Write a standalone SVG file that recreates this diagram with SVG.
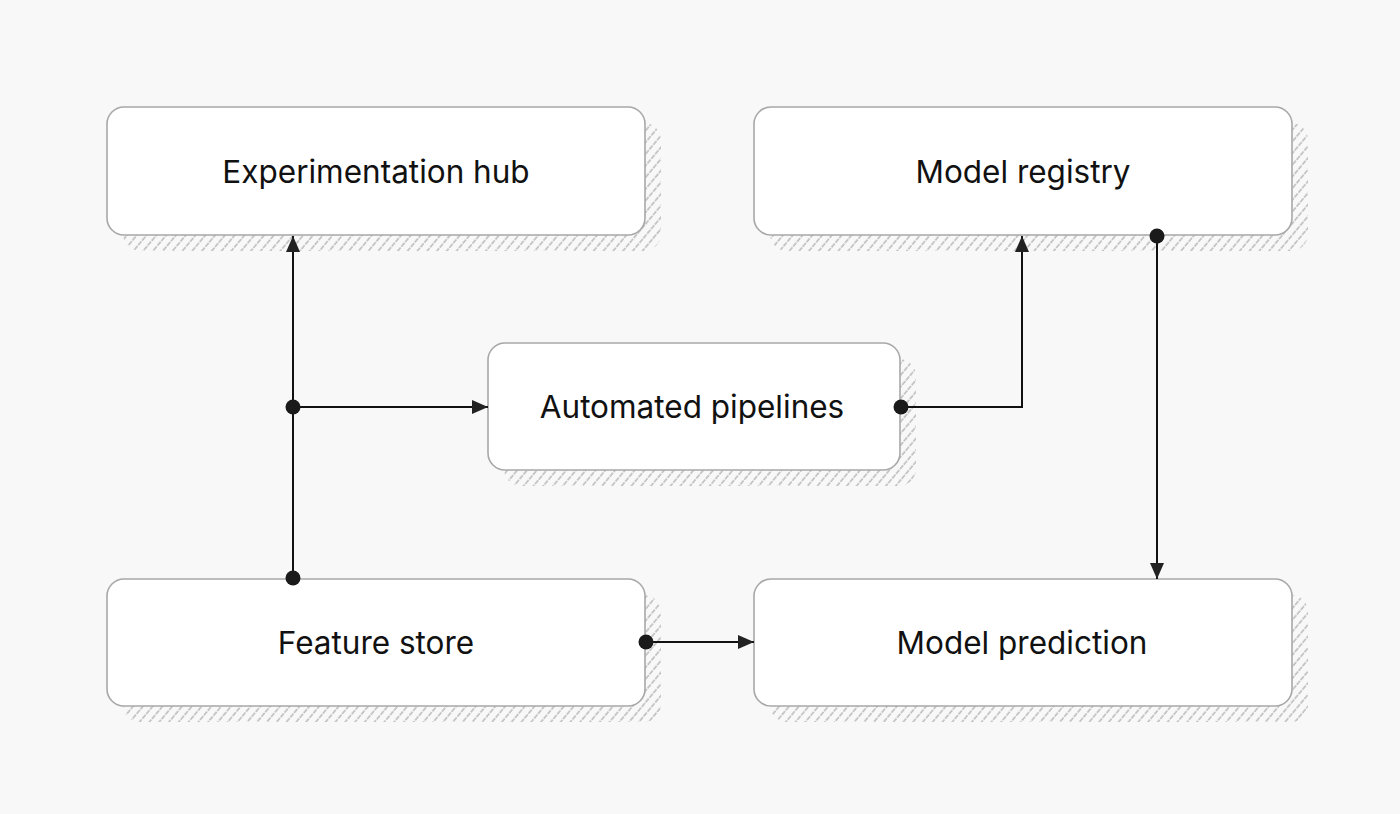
<svg xmlns="http://www.w3.org/2000/svg" width="1400" height="814" viewBox="0 0 1400 814">
<defs>
<pattern id="hatch" patternUnits="userSpaceOnUse" width="7.5" height="6" patternTransform="rotate(40)">
<line x1="1" y1="0" x2="1" y2="6" stroke="#9a9a9a" stroke-width="1" stroke-dasharray="3 1"/>
</pattern>
<marker id="arrow" viewBox="0 0 16 14" refX="16" refY="7" markerWidth="16" markerHeight="14" markerUnits="userSpaceOnUse" orient="auto">
<path d="M0,0 L16,7 L0,14 Z" fill="#222"/>
</marker>
<marker id="dot" viewBox="0 0 16 16" refX="8" refY="8" markerWidth="16" markerHeight="16" markerUnits="userSpaceOnUse">
<circle cx="8" cy="8" r="7.5" fill="#1a1a1a"/>
</marker>
</defs>
<style>
.shadow{fill:url(#hatch);stroke:none}
.box{fill:#ffffff;stroke:#a8a8a8;stroke-width:1.6}
.label{font-family:Inter,"Liberation Sans",sans-serif;font-size:31.5px;fill:#111;text-anchor:middle;dominant-baseline:central}
.conn{fill:none;stroke:#111;stroke-width:2}
</style>
<rect width="1400" height="814" fill="#f8f8f8"/>
<g id="experimentation-hub">
<rect class="shadow" x="123" y="123" width="538" height="128" rx="17"/>
<rect class="box" x="107" y="107" width="538" height="128" rx="17"/>
<text class="label" x="376" y="171">Experimentation hub</text>
</g>
<g id="model-registry">
<rect class="shadow" x="770" y="123" width="538" height="128" rx="17"/>
<rect class="box" x="754" y="107" width="538" height="128" rx="17"/>
<text class="label" x="1023" y="171">Model registry</text>
</g>
<g id="automated-pipelines">
<rect class="shadow" x="504" y="359" width="412" height="127" rx="17"/>
<rect class="box" x="488" y="343" width="412" height="127" rx="17"/>
<text class="label" x="692" y="406">Automated pipelines</text>
</g>
<g id="feature-store">
<rect class="shadow" x="123" y="595" width="538" height="127" rx="17"/>
<rect class="box" x="107" y="579" width="538" height="127" rx="17"/>
<text class="label" x="376" y="642">Feature store</text>
</g>
<g id="model-prediction">
<rect class="shadow" x="770" y="595" width="538" height="127" rx="17"/>
<rect class="box" x="754" y="579" width="538" height="127" rx="17"/>
<text class="label" x="1022" y="642">Model prediction</text>
</g>
<g id="connectors">
<path class="conn" d="M293,578 L293,236" marker-start="url(#dot)" marker-end="url(#arrow)"/>
<path class="conn" d="M293,407 L488,407" marker-start="url(#dot)" marker-end="url(#arrow)"/>
<path class="conn" d="M901,407 L1022,407 L1022,236" marker-start="url(#dot)" marker-end="url(#arrow)"/>
<path class="conn" d="M1157,236 L1157,579" marker-start="url(#dot)" marker-end="url(#arrow)"/>
<path class="conn" d="M646,642 L754,642" marker-start="url(#dot)" marker-end="url(#arrow)"/>
</g>
</svg>
